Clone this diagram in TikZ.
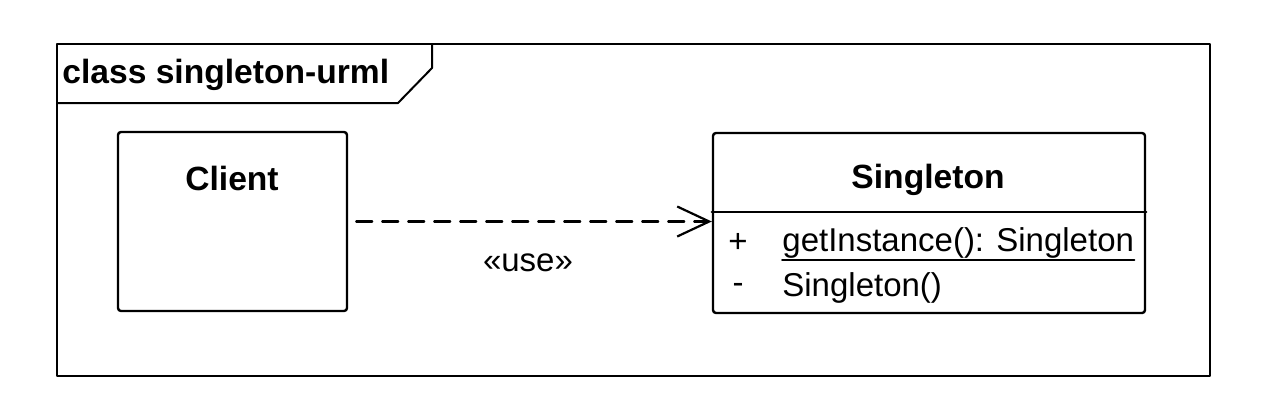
\documentclass[tikz,border=0pt]{standalone}
\usepackage{fontspec}
\setmainfont{Liberation Sans}
\usetikzlibrary{arrows.meta,positioning}

\begin{document}
\begin{tikzpicture}[line cap=round,line join=round,x=0.5pt,y=0.5pt,
	every node/.style={font=\fontsize{16.5}{20}\selectfont,inner sep=0pt},
	classbox/.style={draw,line width=1.2pt,rounded corners=1.5pt,fill=white},
	usedep/.style={line width=1.1pt,dash pattern=on 8pt off 5pt,-{Straight Barb[length=16pt,width=15pt,line width=1.1pt]}}]
		\useasboundingbox (0,0) rectangle (1280,404);
		% frame with name tab
		\draw[line width=1pt] (57,28) rectangle (1210,360);
		\draw[line width=1pt] (57,301) -- (398,301) -- (432,336) -- (432,360);
		\node[anchor=west,font=\fontsize{16.8}{20}\selectfont\bfseries] (frametitle) at (62,329) {class singleton-urml};
		% Client
		\node[classbox,minimum width=114.5pt,minimum height=89.5pt] (client) at (232.5,182.5) {};
		\node[font=\fontsize{16.8}{20}\selectfont\bfseries] (clientname) at (232,226) {Client};
		% Singleton
		\node[classbox,minimum width=216pt,minimum height=90pt] (singleton) at (929,181) {};
		\node[font=\fontsize{16.8}{20}\selectfont\bfseries] (singletonname) at (928,224) {Singleton};
		\coordinate (sep) at (929,192);
		\draw[line width=1.2pt] (singleton.west |- sep) -- (singleton.east |- sep);
		\node (plus) at (738,161) {+};
		\node[anchor=west] (getinst) at (782,161) {getInstance(): Singleton};
		\draw[line width=0.9pt] ([yshift=-0.8pt]getinst.south west) -- ([yshift=-0.8pt]getinst.south east);
		\node (minus) at (738,116) {-};
		\node[anchor=west] (ctor) at (782,116) {Singleton()};
		% dependency
		\draw[usedep,shorten <=4pt] (client.east) -- (client.east -| singleton.west);
		\node (use) at (528,141) {«use»};
	\end{tikzpicture}
\end{document}
